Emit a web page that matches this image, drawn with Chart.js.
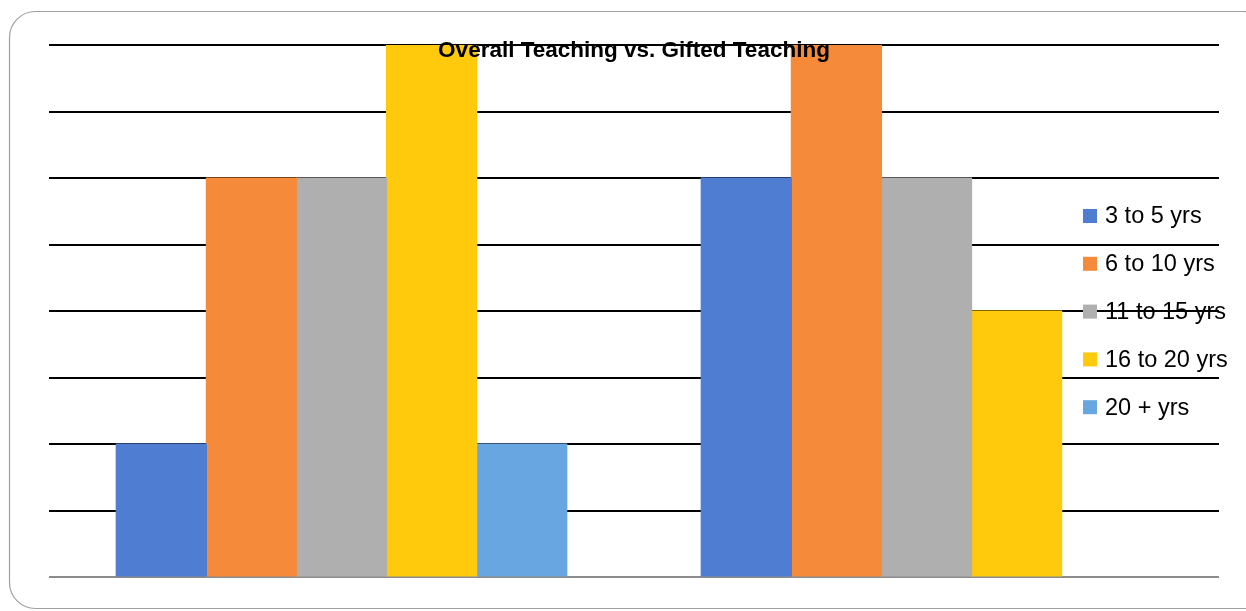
<!DOCTYPE html>
<html>
<head>
<meta charset="utf-8">
<script src="https://cdn.jsdelivr.net/npm/chart.js@4/dist/chart.umd.min.js"></script>
<style>
  html, body { margin: 0; padding: 0; background: #fff; }
  canvas { display: block; }
</style>
</head>
<body>
<canvas id="chart" width="1246" height="611"></canvas>
<script>
// data
const categories = ['Overall Teaching', 'Gifted Teaching'];
const seriesNames = ['3 to 5 yrs', '6 to 10 yrs', '11 to 15 yrs', '16 to 20 yrs', '20 + yrs'];
const yrs3to5 = [2, 6];
const yrs6to10 = [6, 8];
const yrs11to15 = [6, 6];
const yrs16to20 = [8, 4];
const yrs20plus = [2, 0];
const colors = ['#4e7dd1', '#f68a3b', '#afafaf', '#ffca0c', '#67a6e0'];

const values = [yrs3to5, yrs6to10, yrs11to15, yrs16to20, yrs20plus];

// frame, title and legend are drawn by hand so they can sit on top of the grid
const decor = {
    id: 'decor',
    beforeDraw(chart) {
        const ctx = chart.ctx;
        ctx.save();
        ctx.strokeStyle = '#a0a0a0';
        ctx.lineWidth = 1.2;
        ctx.beginPath();
        ctx.roundRect(9.5, 11.5, 1260, 597, 26);
        ctx.stroke();
        ctx.restore();
    },
    afterDraw(chart) {
        const ctx = chart.ctx;
        ctx.save();
        ctx.fillStyle = '#000';
        ctx.font = 'bold 22.5px "Liberation Sans"';
        ctx.textAlign = 'center';
        ctx.textBaseline = 'alphabetic';
        ctx.fillText('Overall Teaching vs. Gifted Teaching', 634, 57);

        ctx.font = '23.5px "Liberation Sans"';
        ctx.textAlign = 'left';
        ctx.textBaseline = 'middle';
        chart.data.datasets.forEach(function (ds, i) {
            const y = 216 + i * 47.8;
            ctx.fillStyle = ds.backgroundColor;
            ctx.fillRect(1083, y - 7, 14, 14);
            ctx.fillStyle = '#000';
            ctx.fillText(ds.label, 1105, y + 1);
        });
        ctx.restore();
    }
};

new Chart(document.getElementById('chart'), {
    type: 'bar',
    data: {
        labels: categories,
        datasets: seriesNames.map(function (name, i) {
            return {
                label: name,
                data: values[i],
                backgroundColor: colors[i],
                borderWidth: 0,
                inflateAmount: function (c) { return c.raw === 0 ? 0 : 0.6; },
                barPercentage: 1,
                categoryPercentage: 0.77
            };
        })
    },
    options: {
        responsive: false,
        animation: false,
        layout: { padding: { left: 49, right: 27, top: 45, bottom: 34 } },
        plugins: {
            legend: { display: false },
            title: { display: false },
            tooltip: { enabled: false }
        },
        scales: {
            x: {
                ticks: { display: false },
                grid: { display: false, drawTicks: false },
                border: { display: false }
            },
            y: {
                min: 0,
                max: 8,
                ticks: { display: false, stepSize: 1 },
                grid: {
                    drawTicks: false,
                    lineWidth: 2,
                    color: function (c) { return c.tick && c.tick.value === 0 ? '#8c8c8c' : '#000'; }
                },
                border: { display: false }
            }
        }
    },
    plugins: [decor]
});
</script>
</body>
</html>
